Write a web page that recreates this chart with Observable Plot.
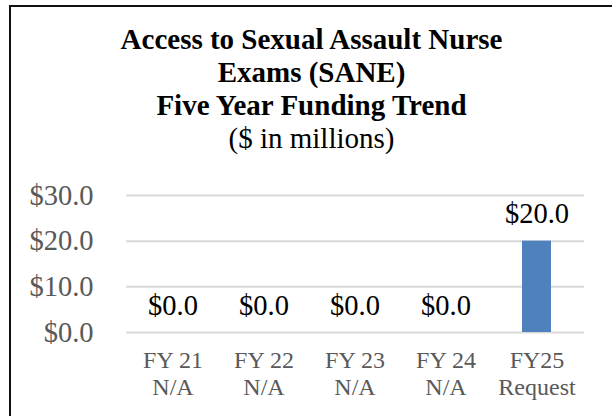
<!DOCTYPE html>
<html>
<head>
<meta charset="utf-8">
<script src="https://cdn.jsdelivr.net/npm/d3@7"></script>
<script src="https://cdn.jsdelivr.net/npm/@observablehq/plot@0.6"></script>
<style>
  html, body { margin: 0; padding: 0; background: #fff; }
  body { width: 612px; height: 416px; overflow: hidden; position: relative; }
  #box {
    position: absolute; left: 9px; top: 5px; width: 601px; height: 420px;
    border-left: 2px solid #111; border-top: 2px solid #111;
    font-family: "Liberation Serif", "Times New Roman", serif;
  }
  #title {
    padding-top: 16px; text-align: center; font-size: 29px; line-height: 33px;
    color: #000; height: 133px; white-space: nowrap;
  }
  #title .b { font-weight: bold; }
  #chart svg { display: block; }
</style>
</head>
<body>
<div id="box">
  <div id="title"></div>
  <div id="chart"></div>
</div>
<script>
const titleLines = ["Access to Sexual Assault Nurse", "Exams (SANE)", "Five Year Funding Trend"];
const subtitle = "($ in millions)";
const categories = ["FY 21", "FY 22", "FY 23", "FY 24", "FY25"];
const subLabels = ["N/A", "N/A", "N/A", "N/A", "Request"];
const values = [0, 0, 0, 0, 20];
const yTicks = [0, 10, 20, 30];

const t = document.getElementById("title");
for (const line of titleLines) {
  const d = document.createElement("div"); d.className = "b"; d.textContent = line; t.appendChild(d);
}
const s = document.createElement("div"); s.textContent = subtitle; t.appendChild(s);

const data = categories.map((c, i) => ({cat: c, sub: subLabels[i], value: values[i]}));
const labelOf = Object.fromEntries(categories.map((c, i) => [c, c + "\n" + subLabels[i]]));
const fmt = d => "$" + d.toFixed(1);
const serif = "Liberation Serif, Times New Roman, serif";

const plot = Plot.plot({
  width: 601,
  height: 260,
  marginTop: 39,
  marginBottom: 84,
  marginLeft: 115,
  marginRight: 28,
  style: {background: "transparent", fontFamily: serif, overflow: "visible"},
  x: {domain: categories, paddingInner: 0.68, paddingOuter: 0.34, label: null},
  y: {domain: [0, 30], ticks: yTicks, label: null},
  marks: [
    Plot.gridY(yTicks, {stroke: "#d9d9d9", strokeOpacity: 1, strokeWidth: 2}),
    Plot.barY(data, {x: "cat", y: "value", fill: "#4f81bd"}),
    Plot.text(data, {x: "cat", y: "value", text: d => fmt(d.value), lineAnchor: "bottom", dy: -18, fontSize: 28.5, fill: "#000"}),
    Plot.axisY(yTicks, {tickSize: 0, tickPadding: 33, tickFormat: fmt, fontSize: 28.5, fill: "#595959", label: null}),
    Plot.axisX({tickSize: 0, tickPadding: 16.5, tickFormat: d => labelOf[d], fontSize: 24, lineHeight: 1.125, fill: "#595959", label: null})
  ]
});
document.getElementById("chart").appendChild(plot);
</script>
</body>
</html>
